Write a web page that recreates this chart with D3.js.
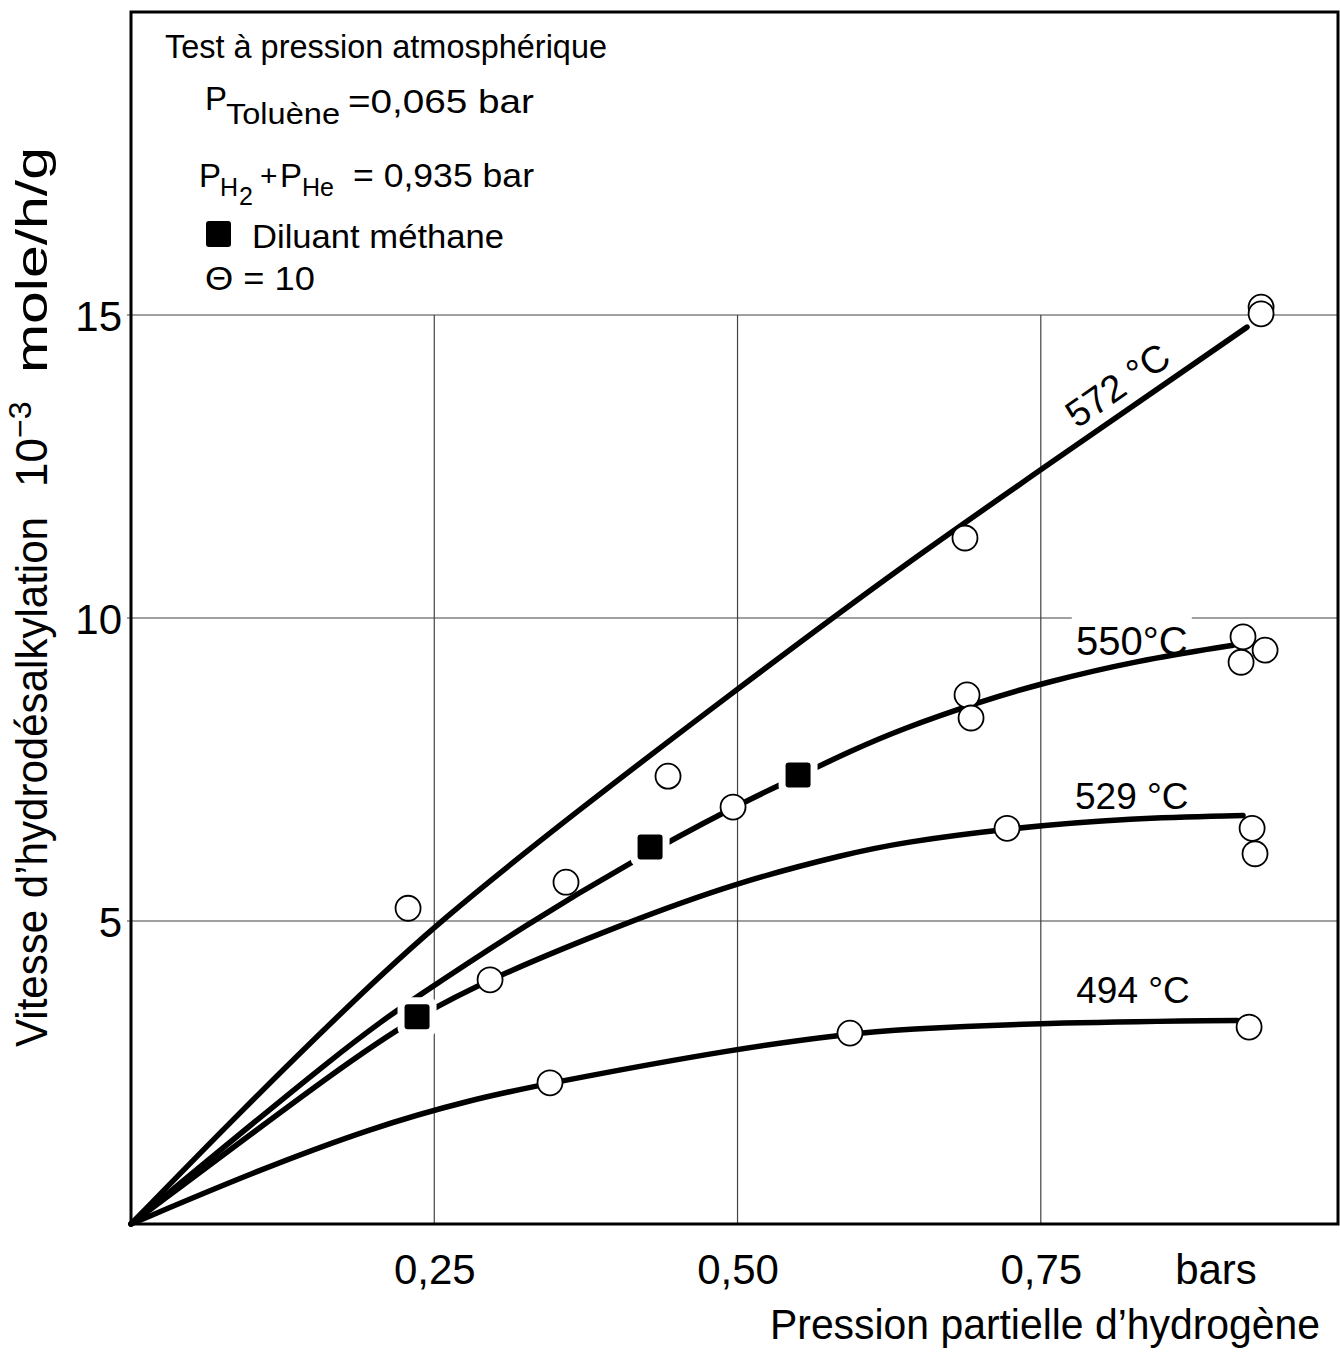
<!DOCTYPE html>
<html>
<head>
<meta charset="utf-8">
<script src="https://cdn.jsdelivr.net/npm/d3@7/dist/d3.min.js"></script>
<style>
  body { margin: 0; background: #fff; }
  svg { display: block; font-family: "Liberation Sans", Arial, sans-serif; }
</style>
</head>
<body>
<div id="chart"></div>
<script>
// ===== data (x: bar of H2, y: 10^-3 mole/h/g)
var xTicks = [0.25, 0.5, 0.75];
var yTicks = [5, 10, 15];
var tempLabels = ["572 °C", "550°C", "529 °C", "494 °C"];

// hand drawn trend curves
var curve572 = [[0, 0], [0.09, 1.85], [0.1805, 3.63], [0.2523, 4.97], [0.37, 6.85], [0.488, 8.65], [0.634, 10.84], [0.777, 12.82], [0.92, 14.8]];
var curve550 = [[0, 0], [0.1805, 2.99], [0.234, 3.73], [0.3265, 4.95], [0.411, 5.96], [0.4963, 6.88], [0.55, 7.39],
                [0.5927, 7.8], [0.634, 8.16], [0.70, 8.62], [0.752, 8.93], [0.83, 9.3], [0.9085, 9.55]];
var curve529 = [[0, 0], [0.1805, 2.71], [0.2358, 3.42], [0.2935, 4.03], [0.405, 4.95], [0.4996, 5.64], [0.5927, 6.12],
                [0.634, 6.29], [0.7222, 6.53], [0.826, 6.7], [0.9167, 6.74]];
var curve494 = [[0, 0], [0.10, 0.85], [0.20, 1.6], [0.28, 2.05], [0.3454, 2.33], [0.4996, 2.9], [0.5927, 3.14],
                [0.634, 3.21], [0.749, 3.32], [0.912, 3.36]];

// measured points (open circles)
var points572 = [[0.2284, 5.21], [0.6875, 11.32], [0.9316, 15.13], [0.9316, 15.02]];
var points550 = [[0.3586, 5.64], [0.4427, 7.39], [0.4963, 6.88], [0.6892, 8.73], [0.6925, 8.35],
                 [0.9167, 9.69], [0.9349, 9.47], [0.9151, 9.27]];
var points529 = [[0.296, 4.03], [0.7222, 6.53], [0.9242, 6.53], [0.9266, 6.11]];
var points494 = [[0.3454, 2.33], [0.5927, 3.15], [0.9217, 3.25]];

// methane diluent (filled squares)
var methanePoints = [[0.2358, 3.42], [0.4279, 6.22], [0.5499, 7.41]];

// ===== svg
var svgWidth = 1340, svgHeight = 1354;
var svg = d3.select("#chart").append("svg")
    .attr("width", svgWidth)
    .attr("height", svgHeight);

svg.append("rect").attr("width", svgWidth).attr("height", svgHeight).attr("fill", "#fff");

var xMax = 0.995, yMax = 20;
var x = d3.scaleLinear().domain([0, xMax]).range([131, 1338]);
var y = d3.scaleLinear().domain([0, yMax]).range([1224, 12]);

var commaFmt = function(d) { return d3.format(".2f")(d).replace(".", ","); };

// ===== grid lines
var grid = svg.append("g").attr("stroke", "#222").attr("stroke-width", 1.2).attr("opacity", 0.85);
grid.selectAll("line.h").data(yTicks).enter().append("line")
    .attr("class", "h")
    .attr("x1", x(0) - 4).attr("x2", x(xMax))
    .attr("y1", d => y(d)).attr("y2", d => y(d));
grid.selectAll("line.v").data(xTicks).enter().append("line")
    .attr("class", "v")
    .attr("x1", d => x(d)).attr("x2", d => x(d))
    .attr("y1", y(0)).attr("y2", y(15));

// ===== axes (labels only, lines drawn as the frame)
var bottomAxis = d3.axisBottom(x).tickValues(xTicks).tickSize(0).tickPadding(30).tickFormat(commaFmt);
var leftAxis = d3.axisLeft(y).tickValues(yTicks).tickSize(0).tickPadding(9);

var xAxisG = svg.append("g").attr("transform", `translate(0, ${y(0)})`).call(bottomAxis);
var yAxisG = svg.append("g").attr("transform", `translate(${x(0)}, 0)`).call(leftAxis);
[xAxisG, yAxisG].forEach(function(g) {
    g.select(".domain").remove();
    g.selectAll("text")
        .attr("font-family", "Liberation Sans, Arial, sans-serif")
        .attr("font-size", 42)
        .attr("fill", "#000");
});
yAxisG.selectAll("text").attr("dy", "0.38em");

svg.append("text")
    .attr("x", 1216).attr("y", 1284)
    .attr("text-anchor", "middle")
    .attr("font-size", 42)
    .text("bars");

svg.append("text")
    .attr("x", 770).attr("y", 1339)
    .attr("font-size", 42)
    .attr("textLength", 550).attr("lengthAdjust", "spacingAndGlyphs")
    .text("Pression partielle d’hydrogène");

// y title, rotated, in three pieces
var yTitle = svg.append("g").attr("font-size", 44);
yTitle.append("text")
    .attr("transform", "translate(47, 1047) rotate(-90)")
    .attr("textLength", 530).attr("lengthAdjust", "spacingAndGlyphs")
    .text("Vitesse d’hydrodésalkylation");
var tenG = yTitle.append("text").attr("transform", "translate(47, 487) rotate(-90)");
tenG.append("tspan").text("10");
tenG.append("tspan").attr("font-size", 32).attr("dy", -16).text("−3");
yTitle.append("text")
    .attr("transform", "translate(47, 373) rotate(-90)")
    .attr("textLength", 226).attr("lengthAdjust", "spacingAndGlyphs")
    .text("mole/h/g");

// ===== frame
svg.append("rect")
    .attr("x", x(0)).attr("y", y(yMax))
    .attr("width", x(xMax) - x(0)).attr("height", y(0) - y(yMax))
    .attr("fill", "none").attr("stroke", "#000").attr("stroke-width", 3);

// ===== curves
var line = d3.line()
    .x(d => x(d[0]))
    .y(d => y(d[1]))
    .curve(d3.curveBasis);

var curves = [curve572, curve550, curve529, curve494];
svg.append("g").selectAll("path").data(curves).enter().append("path")
    .attr("d", line)
    .attr("fill", "none")
    .attr("stroke", "#000")
    .attr("stroke-width", 5.5)
    .attr("stroke-linecap", "round")
    .attr("stroke-linejoin", "round");

// ===== squares, with a white halo that cuts the lines
var sq = 25, halo = 7;
var sqG = svg.append("g");
sqG.selectAll("rect.halo").data(methanePoints).enter().append("rect")
    .attr("class", "halo")
    .attr("x", d => x(d[0]) - sq / 2 - halo).attr("y", d => y(d[1]) - sq / 2 - halo)
    .attr("width", sq + 2 * halo).attr("height", sq + 2 * halo)
    .attr("rx", 8)
    .attr("fill", "#fff");
sqG.selectAll("rect.mark").data(methanePoints).enter().append("rect")
    .attr("class", "mark")
    .attr("x", d => x(d[0]) - sq / 2).attr("y", d => y(d[1]) - sq / 2)
    .attr("width", sq).attr("height", sq)
    .attr("rx", 3)
    .attr("fill", "#000");

// ===== open circles
var allPoints = [].concat(points572, points550, points529, points494);
svg.append("g").selectAll("circle").data(allPoints).enter().append("circle")
    .attr("cx", d => x(d[0]))
    .attr("cy", d => y(d[1]))
    .attr("r", 12.5)
    .attr("fill", "#fff")
    .attr("stroke", "#000")
    .attr("stroke-width", 1.8);

// ===== temperature labels
var n = curve572.length;
var angle = Math.atan2(y(curve572[n - 1][1]) - y(curve572[n - 3][1]), x(curve572[n - 1][0]) - x(curve572[n - 3][0])) * 180 / Math.PI;
var labelSpots = [
    { t: tempLabels[0], px: 0.813, py: 13.85, rot: angle, size: 38 },
    { t: tempLabels[1], px: 0.825, py: 9.62, rot: 0, size: 40 },
    { t: tempLabels[2], px: 0.825, py: 7.06, rot: 0, size: 37 },
    { t: tempLabels[3], px: 0.826, py: 3.86, rot: 0, size: 37 }
];

// the 550 label breaks the 10 grid line
svg.append("rect")
    .attr("x", x(labelSpots[1].px) - 60).attr("y", y(10) - 4)
    .attr("width", 120).attr("height", 8)
    .attr("fill", "#fff");

labelSpots.forEach(function(l) {
    svg.append("text")
        .attr("transform", `translate(${x(l.px)}, ${y(l.py)}) rotate(${l.rot})`)
        .attr("text-anchor", "middle")
        .attr("dy", "0.36em")
        .attr("font-size", l.size)
        .text(l.t);
});

// ===== legend block (top left)
var leg = svg.append("g").attr("fill", "#000");
leg.append("text").attr("x", 165).attr("y", 58).attr("font-size", 34)
    .attr("textLength", 442).attr("lengthAdjust", "spacingAndGlyphs")
    .text("Test à pression atmosphérique");

leg.append("text").attr("x", 205).attr("y", 110).attr("font-size", 33).text("P");
leg.append("text").attr("x", 226).attr("y", 124).attr("font-size", 29)
    .attr("textLength", 114).attr("lengthAdjust", "spacingAndGlyphs").text("Toluène");
leg.append("text").attr("x", 348).attr("y", 113).attr("font-size", 34)
    .attr("textLength", 186).attr("lengthAdjust", "spacingAndGlyphs").text("=0,065 bar");

leg.append("text").attr("x", 199).attr("y", 187).attr("font-size", 33).text("P");
leg.append("text").attr("x", 220).attr("y", 196).attr("font-size", 25).text("H");
leg.append("text").attr("x", 239).attr("y", 205).attr("font-size", 25).text("2");
leg.append("text").attr("x", 260).attr("y", 186).attr("font-size", 30).text("+");
leg.append("text").attr("x", 280).attr("y", 187).attr("font-size", 33).text("P");
leg.append("text").attr("x", 302).attr("y", 196).attr("font-size", 25).text("He");
leg.append("text").attr("x", 353).attr("y", 187).attr("font-size", 34)
    .attr("textLength", 181).attr("lengthAdjust", "spacingAndGlyphs").text("= 0,935 bar");

leg.append("rect").attr("x", 206).attr("y", 221).attr("width", 25).attr("height", 26).attr("rx", 3);
leg.append("text").attr("x", 252).attr("y", 248).attr("font-size", 34)
    .attr("textLength", 252).attr("lengthAdjust", "spacingAndGlyphs").text("Diluant méthane");

leg.append("text").attr("x", 205).attr("y", 290).attr("font-size", 34)
    .attr("textLength", 110).attr("lengthAdjust", "spacingAndGlyphs").text("Θ = 10");
</script>
</body>
</html>
